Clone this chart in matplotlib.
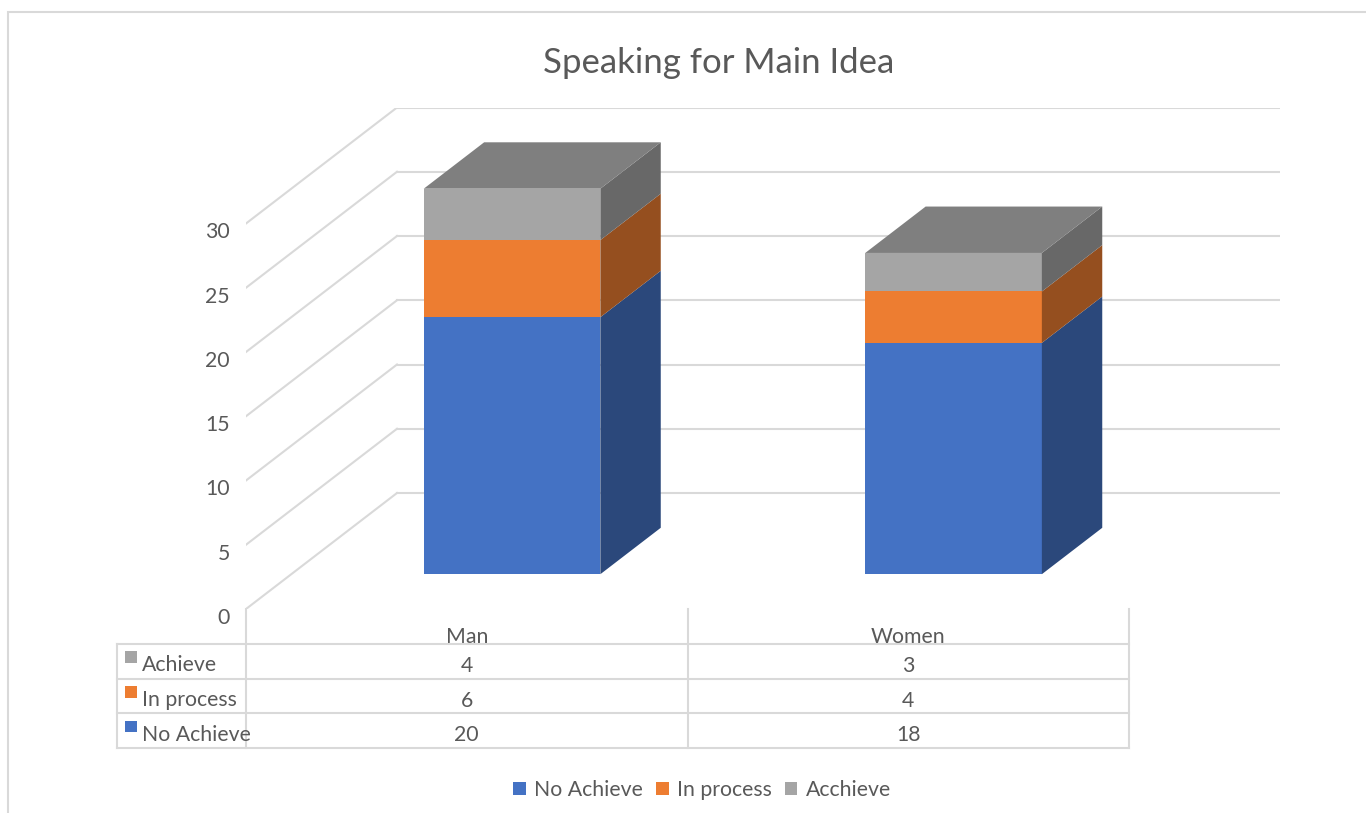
import matplotlib
matplotlib.use("Agg")
import matplotlib.pyplot as plt
from matplotlib.patches import Polygon, Rectangle, Patch
from matplotlib.colors import to_rgb

plt.rcParams["font.family"] = ["Lato", "DejaVu Sans"]

# data
categories = ["Man", "Women"]
no_achieve = [20, 18]
in_process = [6, 4]
achieve = [4, 3]

series_names = ["No Achieve", "In process", "Achieve"]
legend_names = ["No Achieve", "In process", "Acchieve"]
series_values = [no_achieve, in_process, achieve]
series_colors = ["#4472C4", "#ED7D31", "#A5A5A5"]

title = "Speaking for Main Idea"
y_ticks = [0, 5, 10, 15, 20, 25, 30]

# layout (pixels of a 1366x813 figure)
W, H = 1366, 813
TEXT = "#595959"
GRID = "#D9D9D9"
FS = 15.3
CAT_PX = 441.5          # width of one category on the front plane
UNIT_PX = 12.85         # pixels per value unit
DEPTH_X = 151 / CAT_PX  # full depth as category units
DEPTH_Y = 116 / UNIT_PX # full depth as value units
BAR_W = 0.4
D_FRONT, D_BACK = 0.3, 0.7
y_max = y_ticks[-1]


def shade(color, f):
    r, g, b = to_rgb(color)
    return (r * f, g * f, b * f)


fig = plt.figure(figsize=(W / 100, H / 100), dpi=100)

# chart border (cropped at right and bottom like the screenshot)
fig.patches.append(Rectangle((8 / W, -0.05), 1.1, 1 - 12 / H + 0.05,
                             transform=fig.transFigure, fill=False,
                             edgecolor=GRID, linewidth=1.5))

x0_px, y0_px = 246, 609
n = len(categories)
ax = fig.add_axes([x0_px / W, (H - y0_px) / H,
                   (n + DEPTH_X) * CAT_PX / W, (y_max + DEPTH_Y) * UNIT_PX / H])
ax.set_xlim(0, n + DEPTH_X)
ax.set_ylim(0, y_max + DEPTH_Y)
ax.axis("off")

# back wall and side wall gridlines
for v in y_ticks:
    ax.plot([DEPTH_X, n + DEPTH_X], [v + DEPTH_Y, v + DEPTH_Y], color=GRID, lw=1.5, zorder=1)
    ax.plot([0, DEPTH_X], [v, v + DEPTH_Y], color=GRID, lw=1.5, zorder=1)
    ax.text(-0.036, v - 0.7, str(v), ha="right", va="center", fontsize=FS,
            color=TEXT, clip_on=False)

# 3d stacked bars
fx, fy = D_FRONT * DEPTH_X, D_FRONT * DEPTH_Y
dx, dy = (D_BACK - D_FRONT) * DEPTH_X, (D_BACK - D_FRONT) * DEPTH_Y
for i in range(n):
    left = i + 0.5 - BAR_W / 2 + fx
    right = left + BAR_W
    bottom = 0
    for vals, col in zip(series_values, series_colors):
        top = bottom + vals[i]
        b, t = bottom + fy, top + fy
        ax.add_patch(Polygon([(left, b), (right, b), (right, t), (left, t)],
                             closed=True, facecolor=col, edgecolor="none", zorder=3))
        ax.add_patch(Polygon([(right, b), (right + dx, b + dy), (right + dx, t + dy), (right, t)],
                             closed=True, facecolor=shade(col, 0.63), edgecolor="none", zorder=3))
        bottom = top
    top_col = series_colors[-1]
    t = bottom + fy
    ax.add_patch(Polygon([(left, t), (right, t), (right + dx, t + dy), (left + dx, t + dy)],
                         closed=True, facecolor=shade(top_col, 0.77), edgecolor="none", zorder=3))

# data table below the plot
lab_w = 129 / CAT_PX
tab_bottom_px = 748
tax = fig.add_axes([(x0_px - 129) / W, (H - tab_bottom_px) / H,
                    (n + lab_w) * CAT_PX / W, (tab_bottom_px - y0_px) / H])
tax.set_xlim(-lab_w, n)
tax.set_ylim(0, 4)
tax.axis("off")

for r in range(4):
    tax.plot([-lab_w, n], [r, r], color=GRID, lw=1.5, zorder=2, clip_on=False)
tax.plot([-lab_w, -lab_w], [0, 3], color=GRID, lw=1.5, zorder=2, clip_on=False)
for c in range(n + 1):
    tax.plot([c, c], [0, 4], color=GRID, lw=1.5, zorder=2, clip_on=False)

for i, cat in enumerate(categories):
    tax.text(i + 0.5, 3.2, cat, ha="center", va="center", fontsize=FS, color=TEXT, zorder=1)

# rows: top to bottom = last series first
for r, (name, vals, col) in enumerate(zip(series_names[::-1], series_values[::-1],
                                           series_colors[::-1])):
    yc = 2.5 - r
    tax.add_patch(Rectangle((-lab_w + 8 / CAT_PX, yc - 0.05), 12 / CAT_PX, 0.34,
                            facecolor=col, edgecolor="none", zorder=3))
    tax.text(-lab_w + 25 / CAT_PX, yc - 0.12, name, ha="left", va="center",
             fontsize=FS, color=TEXT, zorder=4)
    for i in range(n):
        tax.text(i + 0.5, yc - 0.14, str(vals[i]), ha="center", va="center",
                 fontsize=FS, color=TEXT)

# title and legend
fig.text(719 / W, 1 - 63 / H, title, ha="center", va="center", fontsize=25, color=TEXT)
handles = [Patch(facecolor=c, edgecolor="none") for c in series_colors]
fig.legend(handles, legend_names, loc="center", bbox_to_anchor=(702 / W, 1 - 790 / H),
           ncol=3, frameon=False, fontsize=FS, handlelength=0.6, handleheight=0.6,
           handletextpad=0.4, columnspacing=0.6, labelcolor=TEXT)

fig.savefig("out.png", dpi=100)
